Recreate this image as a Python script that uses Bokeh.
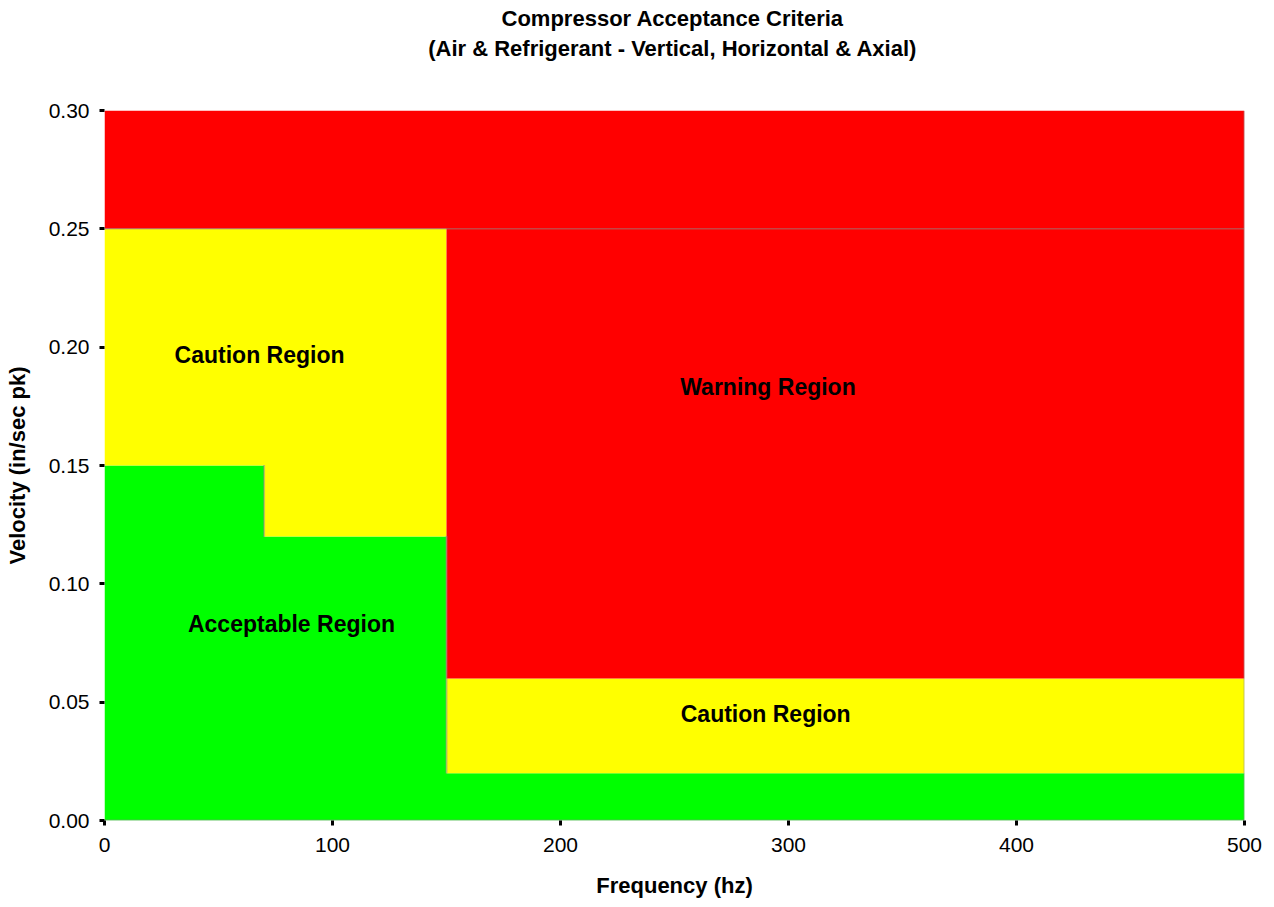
from bokeh.plotting import figure
from bokeh.layouts import column
from bokeh.models import Range1d, ColumnDataSource, FixedTicker, NumeralTickFormatter
from bokeh.core.properties import value
from bokeh.embed import file_html
from bokeh.resources import INLINE

# ---- data ----
freq_pts = [0, 70, 70, 150, 150, 500]
acceptable_top = [0.15, 0.15, 0.12, 0.12, 0.02, 0.02]
caution_top = [0.25, 0.25, 0.25, 0.25, 0.06, 0.06]
warning_top = [0.30, 0.30, 0.30, 0.30, 0.30, 0.30]
danger_line = [0.25, 0.25, 0.25, 0.25, 0.25, 0.25]

region_labels = ["Caution Region", "Warning Region", "Acceptable Region", "Caution Region"]
label_freq = [68, 291, 82, 290]
label_vel = [0.1965, 0.183, 0.0832, 0.0448]

x_ticks = [0, 100, 200, 300, 400, 500]
y_ticks = [0.00, 0.05, 0.10, 0.15, 0.20, 0.25, 0.30]

title_lines = ["Compressor Acceptance Criteria",
               "(Air & Refrigerant - Vertical, Horizontal & Axial)"]
x_title = "Frequency (hz)"
y_title = "Velocity (in/sec pk)"

FONT = "Liberation Sans"
W, TITLE_H, PLOT_H, PLOT_TOP = 1274, 90, 817, 20

# ---- title strip (pixel coordinate space) ----
tf = figure(width=W, height=TITLE_H, x_range=Range1d(0, W), y_range=Range1d(0, TITLE_H),
            output_backend="svg", toolbar_location=None, title=None,
            x_axis_location=None, y_axis_location=None, min_border=0)
tf.xgrid.visible = False
tf.ygrid.visible = False
tf.outline_line_color = None
tf.text(x=[635, 635], y=[TITLE_H - 18, TITLE_H - 48], text=title_lines,
        text_font=value(FONT), text_font_size="22px", text_font_style="bold",
        text_align="center", text_baseline="middle", text_color="black")

# ---- main chart ----
p = figure(width=W, height=PLOT_H,
           x_range=Range1d(0, 500), y_range=Range1d(0, 0.30),
           output_backend="svg", toolbar_location=None, title=None,
           min_border_left=104, min_border_right=30,
           min_border_top=PLOT_TOP, min_border_bottom=87)

src = ColumnDataSource(dict(x=freq_pts, acc=acceptable_top, cau=caution_top,
                            war=warning_top, dl=danger_line, zero=[0]*len(freq_pts)))

p.varea(x="x", y1="zero", y2="acc", source=src, fill_color="#00FF00")
p.varea(x="x", y1="acc", y2="cau", source=src, fill_color="#FFFF00")
p.varea(x="x", y1="cau", y2="war", source=src, fill_color="#FF0000")

# dotted series borders
GREY = "#8a8a8a"
p.line(x="x", y="dl", source=src, line_color=GREY, line_width=1.5, line_dash="1 1")
p.line(x=[freq_pts[-1], freq_pts[-1]], y=[0, warning_top[-1]], line_color=GREY, line_width=2, line_dash="1 1")
p.line(x=[freq_pts[0], freq_pts[-1]], y=[0, 0], line_color=GREY, line_width=2, line_dash="1 1")
p.line(x=[freq_pts[1], freq_pts[2]], y=[acceptable_top[1], acceptable_top[2]], line_color=GREY, line_width=2, line_dash="1 1")
p.line(x=[freq_pts[3], freq_pts[4]], y=[acceptable_top[3], acceptable_top[4]], line_color=GREY, line_width=2, line_dash="1 1")

p.text(x=label_freq, y=label_vel, text=region_labels,
       text_font=value(FONT), text_font_size="23px", text_font_style="bold",
       text_align="center", text_baseline="middle", text_color="black")

p.xgrid.visible = False
p.ygrid.visible = False
p.outline_line_color = None
p.background_fill_color = "white"
p.border_fill_color = "white"

for ax in (p.xaxis[0], p.yaxis[0]):
    ax.axis_line_color = None
    ax.major_tick_line_color = "black"
    ax.major_tick_line_width = 3
    ax.major_tick_out = 5
    ax.major_tick_in = 0
    ax.minor_tick_line_color = None
    ax.major_label_text_font = FONT
    ax.major_label_text_font_size = "21px"
    ax.major_label_text_color = "black"
    ax.axis_label_text_font = FONT
    ax.axis_label_text_font_size = "22px"
    ax.axis_label_text_font_style = "bold"
    ax.axis_label_text_color = "black"

p.xaxis.ticker = FixedTicker(ticks=x_ticks)
p.yaxis.ticker = FixedTicker(ticks=y_ticks)
p.yaxis.formatter = NumeralTickFormatter(format="0.00")
p.xaxis.formatter = NumeralTickFormatter(format="0")
p.xaxis.axis_label = x_title
p.yaxis.axis_label = y_title
p.xaxis.major_label_standoff = 12
p.yaxis.major_label_standoff = 10
p.xaxis.axis_label_standoff = 18
p.yaxis.axis_label_standoff = 16

layout = column(tf, p, spacing=0)
open("out.html", "w").write(file_html(layout, INLINE))
